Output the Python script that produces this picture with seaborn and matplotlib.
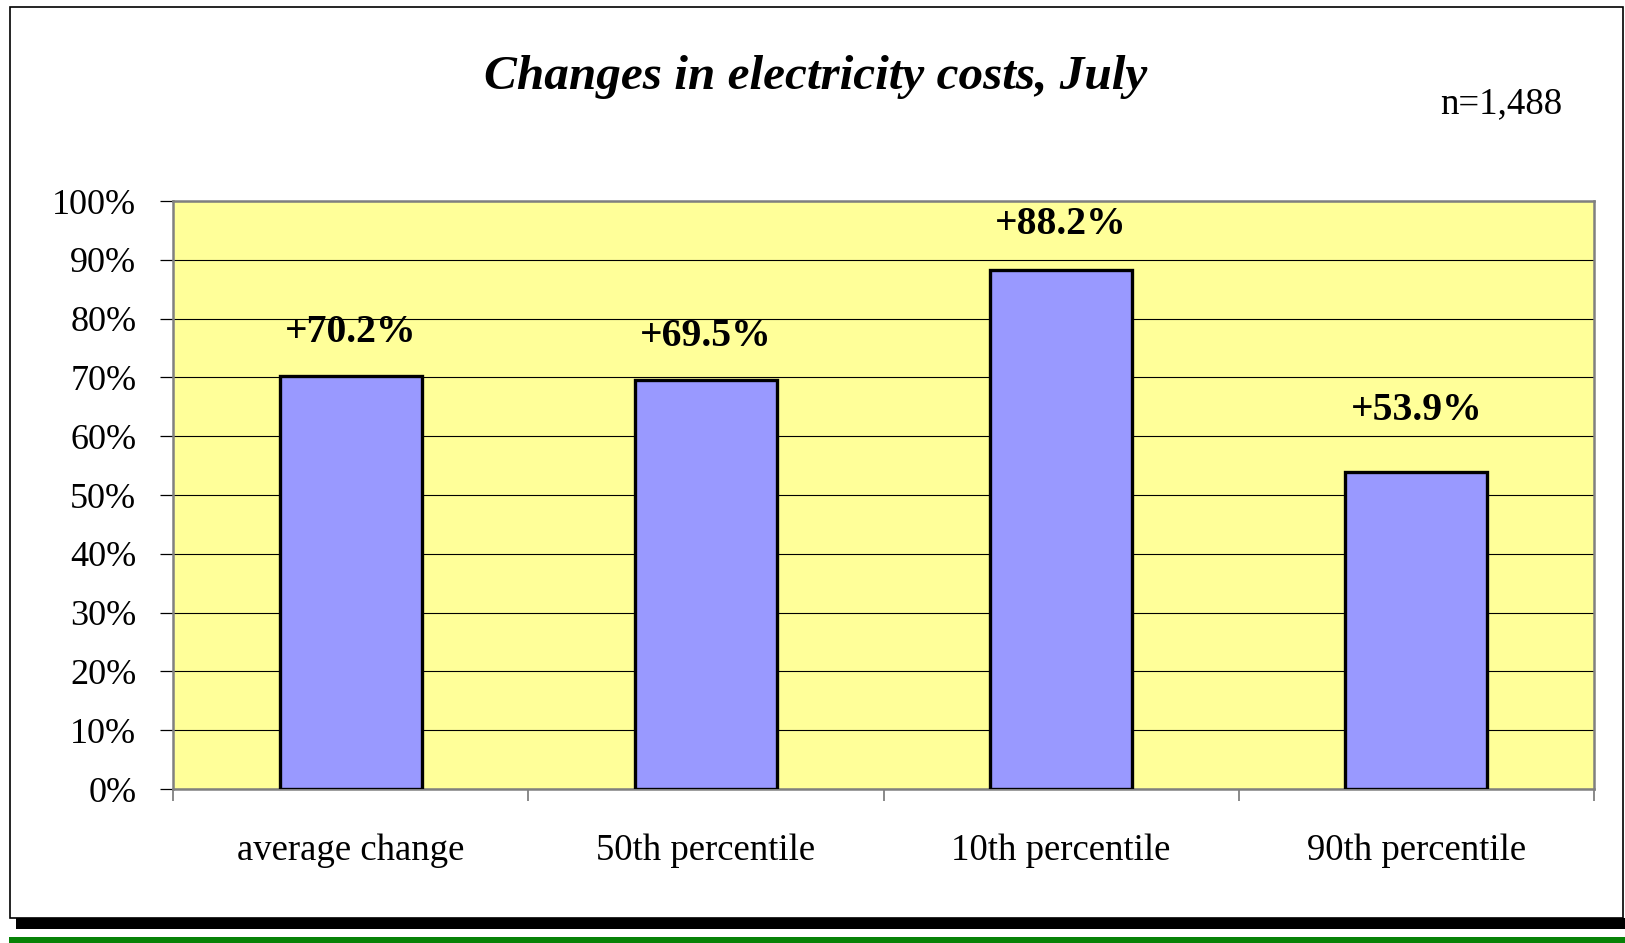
import matplotlib
matplotlib.use("Agg")
import matplotlib.pyplot as plt
from matplotlib.patches import Rectangle
from matplotlib.ticker import FixedLocator, PercentFormatter
import seaborn as sns
import pandas as pd

# Chart data
categories = ["average change", "50th percentile", "10th percentile", "90th percentile"]
values = [70.2, 69.5, 88.2, 53.9]
value_labels = ["+70.2%", "+69.5%", "+88.2%", "+53.9%"]
y_ticks = [0, 10, 20, 30, 40, 50, 60, 70, 80, 90, 100]
title_text = "Changes in electricity costs, July"
sample_text = "n=1,488"

# Vertical gap (pixels) between each bar top and its value label
label_gaps = [44, 44, 46, 62]

W, H, DPI = 1625, 943, 100
sns.set_theme(style="white")
plt.rcParams["font.family"] = ["Liberation Serif", "DejaVu Serif"]

fig = plt.figure(figsize=(W / DPI, H / DPI), dpi=DPI, facecolor="white")
ax = fig.add_axes([173 / W, 1 - 789 / H, (1594 - 173) / W, (789 - 201) / H])
ax.set_facecolor("#FFFF99")

df = pd.DataFrame({"category": categories, "value": values})
sns.barplot(data=df, x="category", y="value", color="#9999FF", saturation=1,
            edgecolor="black", linewidth=2.4, width=0.4, ax=ax, zorder=3)

ax.set_xlim(-0.5, len(categories) - 0.5)
ax.set_ylim(0, 100)
ax.set_yticks(y_ticks)
ax.yaxis.set_major_formatter(PercentFormatter(decimals=0))
ax.set_xlabel("")
ax.set_ylabel("")

# Gridlines
ax.yaxis.grid(True, color="black", linewidth=0.8, zorder=1)
ax.xaxis.grid(False)
ax.set_axisbelow(True)

# Spines
for side in ["left", "right", "top", "bottom"]:
    ax.spines[side].set_visible(True)
    ax.spines[side].set_color("#808080")
    ax.spines[side].set_linewidth(1.8)

# Ticks
ax.tick_params(axis="y", which="major", direction="out", length=9.4, width=0.9,
               color="black", labelsize=26, pad=17, left=True)
ax.tick_params(axis="x", which="major", length=0, labelsize=26.5, pad=32)
ax.xaxis.set_minor_locator(FixedLocator([i - 0.5 for i in range(len(categories) + 1)]))
ax.tick_params(axis="x", which="minor", direction="out", length=8.6, width=1.3,
               color="#808080", bottom=True)
for lbl in ax.get_xticklabels() + ax.get_yticklabels():
    lbl.set_color("black")
for lbl in ax.get_yticklabels():
    lbl.set_verticalalignment("center_baseline")

# Value labels above bars
for i, (v, txt, gap) in enumerate(zip(values, value_labels, label_gaps)):
    ax.annotate(txt, xy=(i, v), xytext=(0, gap), textcoords="offset pixels",
                ha="center", va="center", fontsize=28.5, fontweight="bold",
                color="black", zorder=5)

# Title and sample size
fig.text(816 / W, 1 - 89 / H, title_text, ha="center", va="baseline",
         fontsize=35.5, fontweight="bold", fontstyle="italic", color="black")
fig.text(1562 / W, 1 - 113 / H, sample_text, ha="right", va="baseline",
         fontsize=26.5, color="black")

# Frame, drop shadow and green rule
fig.patches.append(Rectangle((10 / W, 1 - 918 / H), 1613 / W, 911 / H,
                             transform=fig.transFigure, fill=False,
                             edgecolor="black", linewidth=1.2, zorder=0))
fig.patches.append(Rectangle((16 / W, 1 - 929 / H), (W - 16) / W, 11 / H,
                             transform=fig.transFigure, facecolor="black",
                             edgecolor="none", zorder=0))
fig.patches.append(Rectangle((9 / W, 0), (W - 9) / W, 6 / H,
                             transform=fig.transFigure, facecolor="#078207",
                             edgecolor="none", zorder=0))

fig.savefig("out.png", dpi=DPI, facecolor="white")
